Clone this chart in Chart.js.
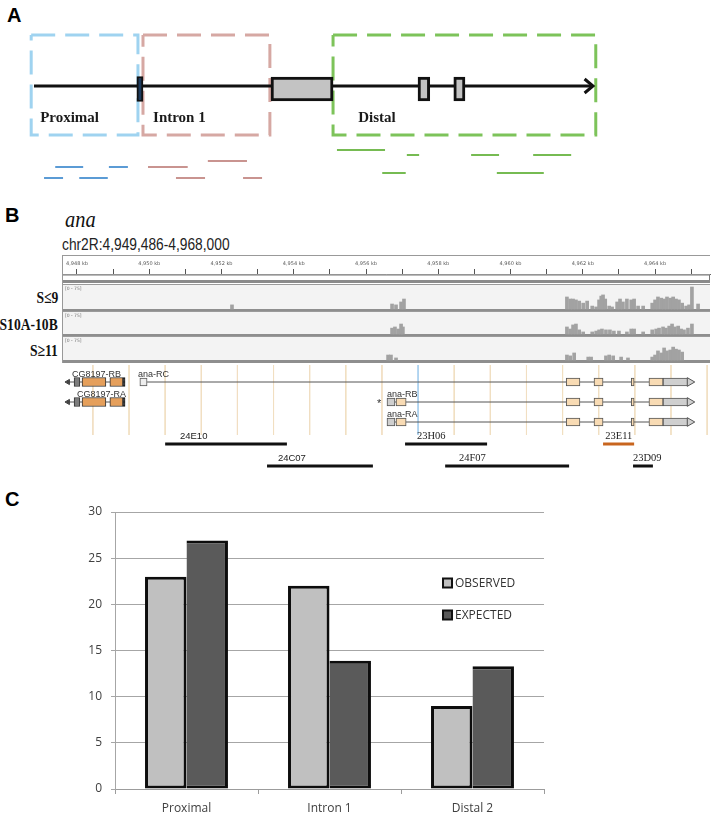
<!DOCTYPE html>
<html lang="en">
<head>
<meta charset="utf-8">
<title>ana regulatory regions</title>
<script src="https://cdn.jsdelivr.net/npm/chart.js@4.4.1/dist/chart.umd.min.js"></script>
<style>
  body { margin: 0; background: #fff; }
  #fig { position: relative; width: 714px; height: 814px; overflow: hidden; font-family: "Liberation Sans", Arial, sans-serif; }
  #fig canvas { position: absolute; left: 0; }
  .lbl { position: absolute; white-space: nowrap; line-height: 1; }
  .panel { font-size: 20px; font-weight: bold; color: #000; }
  .gene { font-family: "Liberation Serif", serif; font-style: italic; font-size: 24px; color: #111; transform: scaleX(0.85); transform-origin: left; }
  .locus { font-size: 16px; color: #222; transform: scaleX(0.86); transform-origin: left; }
  .track { font-family: "Liberation Serif", serif; font-weight: bold; font-size: 17px; color: #111; text-align: right; transform: scaleX(0.8); transform-origin: right; }
</style>
</head>
<body>
<div id="fig">
  <div class="lbl panel" style="left:7px; top:5px;">A</div>
  <div class="lbl panel" style="left:5px; top:205px;">B</div>
  <div class="lbl gene" style="left:65px; top:207px;">ana</div>
  <div class="lbl locus" style="left:62px; top:237px;">chr2R:4,949,486-4,968,000</div>
  <div class="lbl track" style="right:656px; top:289px;">S≤9</div>
  <div class="lbl track" style="right:656px; top:316px;">S10A-10B</div>
  <div class="lbl track" style="right:656px; top:342px;">S≥11</div>
  <div class="lbl panel" style="left:5px; top:489px;">C</div>

  <canvas id="cA" width="714" height="200" style="top:0"></canvas>
  <canvas id="cB1" width="714" height="113" style="top:252px"></canvas>
  <canvas id="cB2" width="714" height="115" style="top:365px"></canvas>
  <canvas id="cC" width="714" height="334" style="top:480px"></canvas>
</div>

<script>
// ---------- Panel A: gene schematic, units 0 = start of line, 100 = arrow tip
const regionNames = ['Proximal', 'Intron 1', 'Distal'];
const regionStart = [-0.5, 19.5, 53.5];
const regionEnd = [18.6, 42.2, 100.5];
const regionLabelAt = [1.1, 21.3, 58.0];
const firstExon = [18.4, 19.5];
const otherExons = [[42.4, 53.5], [68.7, 70.8], [75.1, 77.1]];
// fragments: [from, to, lane]
const proximalFrags = [[3.8, 8.8, 3], [13.4, 16.8, 3], [1.8, 5.2, 5], [8.1, 13.2, 5]];
const intronFrags = [[20.4, 27.5, 3], [31.1, 38.1, 2], [25.4, 30.6, 5], [37.4, 40.8, 5]];
const distalFrags = [[54.2, 62.8, 0], [66.7, 68.9, 1], [78.2, 83.2, 1], [89.3, 96.1, 1], [62.3, 66.5, 4], [82.8, 91.2, 4]];

// ---------- Panel B: genome browser, x in kb
const kbMin = 4947.585, kbMax = 4965.52;
const covPos1 = [4952.29, 4956.72, 4956.83, 4956.97, 4957.05,
  4961.56, 4961.65, 4961.73, 4961.81, 4961.90, 4962.01, 4962.12, 4962.26, 4962.37, 4962.45, 4962.51, 4962.56,
  4962.62, 4962.73, 4962.81, 4962.95, 4963.03, 4963.11, 4963.22, 4963.34, 4963.42, 4963.53, 4963.67, 4963.92,
  4964.00, 4964.08, 4964.17, 4964.25, 4964.33, 4964.42, 4964.50, 4964.58, 4964.66, 4964.75, 4964.86, 4964.94,
  4965.02, 4965.19];
const covDepth1 = [14, 17, 14, 24, 34,
  41, 34, 34, 31, 27, 20, 27, 10, 7, 31, 44, 48,
  34, 10, 7, 24, 34, 24, 34, 31, 34, 10, 10, 20,
  31, 41, 37, 34, 41, 37, 41, 34, 31, 20, 10, 14,
  75, 17];
const covPos2 = [4956.72, 4956.80, 4956.89, 4956.97, 4957.02,
  4961.56, 4961.65, 4961.73, 4961.81, 4961.90, 4962.01, 4962.26, 4962.37, 4962.45, 4962.53, 4962.64, 4962.75,
  4962.86, 4963.00, 4963.22, 4963.34, 4963.42, 4963.67, 4963.92, 4964.03, 4964.11, 4964.22, 4964.30, 4964.39,
  4964.47, 4964.55, 4964.64, 4964.72, 4964.80, 4964.91, 4965.02];
const covDepth2 = [20, 24, 17, 34, 24,
  24, 17, 31, 34, 14, 7, 7, 10, 14, 17, 14, 14,
  10, 10, 7, 17, 17, 7, 14, 17, 20, 24, 20, 27,
  34, 24, 27, 17, 14, 20, 34];
const covPos3 = [4956.61, 4956.69, 4956.83,
  4961.56, 4961.65, 4961.76, 4962.15, 4962.23, 4962.64, 4962.73, 4962.84, 4963.06, 4963.25, 4963.92, 4964.00,
  4964.08, 4964.17, 4964.25, 4964.33, 4964.42, 4964.50, 4964.58, 4964.66, 4964.75];
const covDepth3 = [17, 17, 7,
  17, 14, 24, 10, 10, 14, 17, 14, 10, 7, 10, 17,
  31, 24, 41, 31, 34, 44, 37, 34, 27];

const igvGridKb = [4948.44, 4949.44, 4950.44, 4951.44, 4952.44, 4953.44, 4954.44, 4955.44, 4956.44,
  4958.44, 4959.44, 4960.44, 4961.44, 4962.44, 4963.44, 4964.44, 4965.44];
const highlightKb = 4957.44;

const geneNames = ['CG8197-RB', 'CG8197-RA', 'ana-RC', 'ana-RB', 'ana-RA'];
const geneLane = [0, 1, 0, 1, 2];
const geneFrom = [4947.75, 4947.75, 4949.94, 4956.80, 4956.80];
const geneTo = [4949.33, 4949.33, 4964.91, 4964.91, 4964.91];
const geneLabelKb = [4947.86, 4948.0, 4949.69, 4956.58, 4956.58];
const cgUtr = [4947.92, 4948.08];
const cgCds = [[4948.14, 4948.80], [4948.91, 4949.27]];
const cgCap = [4949.27, 4949.33];
const anaRcFirst = [4949.74, 4949.94];
const anaFirstUtr = [4956.58, 4956.80];
const anaFirstCds = [4956.83, 4957.11];
const anaExons = [[4961.54, 4961.92], [4962.31, 4962.56], [4963.34, 4963.42], [4963.83, 4964.22]];
const anaUtr3 = [4964.22, 4964.91];
const anaTipKb = 4964.96;
const starKb = 4956.36;

const cloneNames = ['24E10', '24C07', '23H06', '24F07', '23E11', '23D09'];
const cloneFrom = [4950.44, 4953.26, 4957.08, 4958.19, 4962.56, 4963.39];
const cloneTo = [4953.81, 4956.19, 4959.35, 4961.62, 4963.42, 4963.94];
const cloneLane = [0, 1, 0, 1, 0, 1];
const cloneLabelKb = [4950.85, 4953.56, 4957.41, 4958.57, 4962.62, 4963.39];

// ---------- Panel C: bar chart
const regions = ['Proximal', 'Intron 1', 'Distal 2'];
const observed = [23, 22, 9];
const expected = [26.9, 13.9, 13.3];
const seriesNames = ['OBSERVED', 'EXPECTED'];

// ---------- layout and style (not data)
const LA = { xMin: -6.08, xMax: 121.65, yMin: -11.4, yMax: 8.6, boxTop: 5.1, boxBottom: -4.9,
  exonY: -0.3, labelY: -3.6, fragY: [-6.4, -6.9, -7.5, -8.1, -8.7, -9.2] };
const boxColors = ['#9fd3f0', '#d6a8a3', '#7dc35a'];
const fragColors = ['#5b9bd5', '#c99490', '#76bb52'];
const LB1 = { yMin: 2.2, yMax: 11.3, rulerTop: 0.3, stripTop: 2.25, stripBottom: 2.8, bandBottom: 3.1,
  tracks: [[3.3, 5.7], [6.0, 8.2], [8.5, 10.8]], band: 0.3, depthSpan: 2.2, depthMax: 75 };
const LB2 = { yMax: 11.5, laneY: [1.7, 3.7, 5.7], labelDy: -0.5, gridBottom: 7.0,
  cloneY: [7.9, 10.1], cloneLabelY: [7.35, 9.55] };
const cloneColor = ['#111', '#111', '#111', '#111', '#c8651e', '#111'];
const cloneFont = ['9.5px "Liberation Sans"', '9.5px "Liberation Sans"', '10.5px "Liberation Serif"',
  '10.5px "Liberation Serif"', '10.5px "Liberation Serif"', '10.5px "Liberation Serif"'];

// ---------- helpers
function segments(list, laneY) {
  const pts = [];
  list.forEach(([a, b, lane]) => {
    pts.push({ x: a, y: laneY[lane] }, { x: b, y: laneY[lane] }, { x: b, y: null });
  });
  return pts;
}
function rectPath(a, b, top, bottom) {
  return [{ x: a, y: top }, { x: b, y: top }, { x: b, y: bottom }, { x: a, y: bottom }, { x: a, y: top }];
}
function lineSet(data, color, width, extra) {
  return Object.assign({ type: 'line', data, borderColor: color, borderWidth: width, pointRadius: 0,
    fill: false, tension: 0, spanGaps: false, clip: false, borderJoinStyle: 'miter' }, extra || {});
}
function hbarSet(data, fill, border, width, thick, extra) {
  return Object.assign({ type: 'bar', indexAxis: 'y', data, backgroundColor: fill, borderColor: border,
    borderWidth: width, borderSkipped: false, barThickness: thick, grouped: false, clip: false }, extra || {});
}
// linear axis without the bar-chart edge offset
function flatAxis(min, max, extra) {
  return Object.assign({ type: 'linear', display: false, min, max, offset: false, grid: { offset: false } }, extra || {});
}

// draws text labels anchored in data units
const textMarks = {
  id: 'textMarks',
  afterDatasetsDraw(chart, args, opts) {
    const { ctx, scales: { x, y } } = chart;
    ctx.save();
    ctx.textBaseline = 'alphabetic';
    (opts.items || []).forEach(t => {
      ctx.font = t.font;
      ctx.fillStyle = t.color || '#222';
      ctx.textAlign = t.align || 'left';
      ctx.fillText(t.text, x.getPixelForValue(t.x), y.getPixelForValue(t.y));
    });
    ctx.restore();
  }
};

const base = { responsive: false, animation: false, events: [] };

// ---------- Panel A
new Chart(document.getElementById('cA'), {
  type: 'line',
  data: {
    datasets: [
      hbarSet([{ x: firstExon, y: LA.exonY }], '#1d3b5e', '#111', 2, 25, { order: 0 }),
      hbarSet(otherExons.map(e => ({ x: e, y: LA.exonY })), '#c3c3c3', '#111', 3, 24, { order: 1 }),
      lineSet([{ x: 0, y: 0 }, { x: 100, y: 0 }], '#111', 3, { order: 2 }),
      lineSet([{ x: 98.5, y: 0.7 }, { x: 100, y: 0 }, { x: 98.5, y: -0.7 }], '#111', 3, { order: 2 }),
      ...regionNames.map((n, i) => lineSet(rectPath(regionStart[i], regionEnd[i], LA.boxTop, LA.boxBottom),
        boxColors[i], 3, { borderDash: [24, 10], order: 3 })),
      lineSet(segments(proximalFrags, LA.fragY), fragColors[0], 2, { order: 4 }),
      lineSet(segments(intronFrags, LA.fragY), fragColors[1], 2, { order: 4 }),
      lineSet(segments(distalFrags, LA.fragY), fragColors[2], 2, { order: 4 })
    ]
  },
  options: Object.assign({}, base, {
    layout: { padding: 0, autoPadding: false },
    plugins: {
      legend: { display: false }, tooltip: { enabled: false },
      textMarks: { items: regionNames.map((n, i) => ({ text: n, x: regionLabelAt[i], y: LA.labelY,
        font: 'bold 15px "Liberation Serif"', color: '#1a1a1a' })) }
    },
    scales: { x: flatAxis(LA.xMin, LA.xMax), y: flatAxis(LA.yMin, LA.yMax) }
  }),
  plugins: [textMarks]
});

// ---------- Panel B, ruler + coverage tracks
const trackPanels = {
  id: 'trackPanels',
  beforeDatasetsDraw(chart) {
    const { ctx, chartArea: ca, scales: { y } } = chart;
    const py = v => y.getPixelForValue(v);
    ctx.save();
    ctx.fillStyle = '#fff';
    ctx.fillRect(ca.left, py(LB1.stripTop), ca.width, py(LB1.stripBottom) - py(LB1.stripTop));
    ctx.strokeStyle = '#777';
    ctx.lineWidth = 1;
    ctx.strokeRect(ca.left + 0.5, py(LB1.stripTop) + 0.5, ca.width - 1, py(LB1.stripBottom) - py(LB1.stripTop));
    ctx.fillStyle = '#8a8a8a';
    ctx.fillRect(ca.left, py(LB1.stripBottom), ca.width, py(LB1.bandBottom) - py(LB1.stripBottom));
    LB1.tracks.forEach(([top, bottom]) => {
      ctx.fillStyle = '#f3f3f3';
      ctx.fillRect(ca.left, py(top), ca.width, py(bottom) - py(top));
      ctx.fillStyle = '#9a9a9a';
      ctx.fillRect(ca.left, py(top) - 1, ca.width, 1);
      ctx.fillStyle = '#8e8e8e';
      ctx.fillRect(ca.left, py(bottom), ca.width, py(bottom + LB1.band) - py(bottom));
      ctx.fillStyle = '#777';
      ctx.font = '4.5px "DejaVu Sans"';
      ctx.textBaseline = 'top';
      ctx.fillText('[0 - 75]', ca.left + 3, py(top) + 2);
    });
    ctx.strokeStyle = '#999';
    ctx.beginPath();
    ctx.moveTo(ca.left + 0.5, py(LB1.rulerTop));
    ctx.lineTo(ca.left + 0.5, py(LB1.tracks[2][1] + LB1.band));
    ctx.moveTo(ca.left, py(LB1.rulerTop) + 0.5);
    ctx.lineTo(ca.right, py(LB1.rulerTop) + 0.5);
    ctx.stroke();
    ctx.restore();
  }
};

function coverage(pos, depth, trackIdx) {
  const bottom = LB1.tracks[trackIdx][1];
  return {
    type: 'bar', data: pos.map((p, i) => ({ x: p, y: [bottom, bottom - depth[i] * LB1.depthSpan / LB1.depthMax] })),
    backgroundColor: '#a2a2a2', borderWidth: 0, barThickness: 3, grouped: false
  };
}

new Chart(document.getElementById('cB1'), {
  type: 'bar',
  data: { datasets: [coverage(covPos1, covDepth1, 0), coverage(covPos2, covDepth2, 1), coverage(covPos3, covDepth3, 2)] },
  options: Object.assign({}, base, {
    layout: { padding: { left: 62, right: 4, top: 0, bottom: 0 }, autoPadding: false },
    plugins: { legend: { display: false }, tooltip: { enabled: false } },
    scales: {
      x: {
        type: 'linear', position: 'top', min: kbMin, max: kbMax, offset: false,
        ticks: { stepSize: 1, includeBounds: false, autoSkip: false, maxRotation: 0, padding: 2, color: '#555',
          font: { size: 5, family: 'DejaVu Sans' },
          callback: v => (v % 2 === 0 ? v.toLocaleString('en-US') + ' kb' : '') },
        grid: { drawOnChartArea: false, tickLength: 5, color: '#555', offset: false },
        border: { color: '#666' },
        afterFit: s => { s.height = 22; }
      },
      y: flatAxis(LB1.yMin, LB1.yMax, { reverse: true })
    }
  }),
  plugins: [trackPanels]
});

// ---------- Panel B, genes + clones
const backbone = [];
geneNames.forEach((n, i) => {
  const ly = LB2.laneY[geneLane[i]];
  backbone.push({ x: geneFrom[i], y: ly }, { x: geneTo[i], y: ly }, { x: geneTo[i], y: null });
});
const gridPts = [];
igvGridKb.forEach(k => { gridPts.push({ x: k, y: 0 }, { x: k, y: LB2.gridBottom }, { x: k, y: null }); });
const cloneSegs = color => {
  const pts = [];
  cloneNames.forEach((n, i) => {
    if (cloneColor[i] !== color) return;
    const cy = LB2.cloneY[cloneLane[i]];
    pts.push({ x: cloneFrom[i], y: cy }, { x: cloneTo[i], y: cy }, { x: cloneTo[i], y: null });
  });
  return pts;
};
const cgLanes = [0, 1], anaLanes = [0, 1, 2];
const onLanes = (lanes, spans) => lanes.flatMap(l => spans.map(s => ({ x: s, y: LB2.laneY[l] })));

new Chart(document.getElementById('cB2'), {
  type: 'line',
  data: {
    datasets: [
      lineSet([{ x: anaTipKb, y: LB2.laneY[0] }, { x: anaTipKb, y: LB2.laneY[1] }, { x: anaTipKb, y: LB2.laneY[2] }], '#555', 1,
        { showLine: false, pointStyle: 'triangle', rotation: 90, pointRadius: 5, pointBackgroundColor: '#cfcfcf',
          pointBorderColor: '#555', pointBorderWidth: 1, order: 0 }),
      lineSet([{ x: geneFrom[0], y: LB2.laneY[0] }, { x: geneFrom[1], y: LB2.laneY[1] }], '#444', 1,
        { showLine: false, pointStyle: 'triangle', rotation: -90, pointRadius: 3, pointBackgroundColor: '#444',
          pointBorderColor: '#444', order: 0 }),
      hbarSet(onLanes(cgLanes, cgCds), '#e59f5b', '#333', 1, 9, { order: 1 }),
      hbarSet(onLanes(cgLanes, [cgUtr]), '#7d7d7d', '#333', 1, 9, { order: 1 }),
      hbarSet(onLanes(cgLanes, [cgCap]), '#1a1a1a', '#1a1a1a', 1, 9, { order: 1 }),
      hbarSet(onLanes([0], [anaRcFirst]), '#eeeeee', '#555', 1, 8, { order: 1 }),
      hbarSet(onLanes([1, 2], [anaFirstUtr]), '#cfcfcf', '#555', 1, 8, { order: 1 }),
      hbarSet(onLanes([1, 2], [anaFirstCds]), '#f8dbb4', '#555', 1, 8, { order: 1 }),
      hbarSet(onLanes(anaLanes, anaExons), '#f8dbb4', '#555', 1, 8, { order: 1 }),
      hbarSet(onLanes(anaLanes, [anaUtr3]), '#cfcfcf', '#555', 1, 8, { order: 1 }),
      lineSet(backbone, '#555', 1, { order: 2 }),
      lineSet(cloneSegs('#111'), '#111', 3, { order: 2, borderCapStyle: 'butt' }),
      lineSet(cloneSegs('#c8651e'), '#c8651e', 3, { order: 2 }),
      lineSet([{ x: highlightKb, y: 0 }, { x: highlightKb, y: LB2.gridBottom }], '#a9cfee', 1, { order: 3 }),
      lineSet(gridPts, '#f1dfc2', 1, { order: 4 })
    ]
  },
  options: Object.assign({}, base, {
    layout: { padding: { left: 62, right: 4, top: 0, bottom: 0 }, autoPadding: false },
    plugins: {
      legend: { display: false }, tooltip: { enabled: false },
      textMarks: { items: [
        ...geneNames.map((n, i) => ({ text: n, x: geneLabelKb[i], y: LB2.laneY[geneLane[i]] + LB2.labelDy,
          font: '9px "Liberation Sans"', color: '#333' })),
        { text: '*', x: starKb, y: LB2.laneY[1] + 0.45, font: '11px "Liberation Sans"', color: '#333', align: 'center' },
        ...cloneNames.map((n, i) => ({ text: n, x: cloneLabelKb[i], y: LB2.cloneLabelY[cloneLane[i]],
          font: cloneFont[i], color: '#222' }))
      ] }
    },
    scales: { x: flatAxis(kbMin, kbMax), y: flatAxis(0, LB2.yMax, { reverse: true }) }
  }),
  plugins: [textMarks]
});

// ---------- Panel C
const cornerLegend = {
  id: 'cornerLegend',
  afterDatasetsDraw(chart, args, opts) {
    const { ctx, chartArea: ca, scales: { y } } = chart;
    const x0 = ca.left + ca.width * opts.xFrac;
    ctx.save();
    ctx.font = opts.font;
    ctx.textBaseline = 'middle';
    ctx.textAlign = 'left';
    chart.data.datasets.forEach((ds, i) => {
      const cy = Math.round(y.getPixelForValue(opts.at[i]));
      ctx.fillStyle = ds.backgroundColor;
      ctx.fillRect(x0, cy - 4.5, 9, 9);
      ctx.lineWidth = 2;
      ctx.strokeStyle = '#111';
      ctx.strokeRect(x0, cy - 4.5, 9, 9);
      ctx.fillStyle = '#333';
      ctx.fillText(ds.label, x0 + 12, cy + 0.5);
    });
    ctx.restore();
  }
};

const axisFont = { family: 'Open Sans', size: 12 };
new Chart(document.getElementById('cC'), {
  type: 'bar',
  data: {
    labels: regions,
    datasets: [
      { label: seriesNames[0], data: observed, backgroundColor: '#c0c0c0', borderColor: '#0d0d0d', borderWidth: 3,
        borderSkipped: false, categoryPercentage: 0.58, barPercentage: 1 },
      { label: seriesNames[1], data: expected, backgroundColor: '#5a5a5a', borderColor: '#0d0d0d', borderWidth: 3,
        borderSkipped: 'left', categoryPercentage: 0.58, barPercentage: 1 }
    ]
  },
  options: Object.assign({}, base, {
    layout: { padding: { left: 0, right: 170, top: 32, bottom: 0 } },
    plugins: {
      legend: { display: false }, tooltip: { enabled: false },
      cornerLegend: { xFrac: 0.7646, at: [22.3, 18.85], font: '12px "Open Sans"' }
    },
    scales: {
      x: {
        grid: { drawOnChartArea: false, tickLength: 5, color: '#9c9c9c', offset: true },
        border: { color: '#9c9c9c' },
        ticks: { font: axisFont, color: '#404040', padding: 7 },
        afterFit: s => { s.height = 25; }
      },
      y: {
        min: 0, max: 30,
        ticks: { stepSize: 5, font: axisFont, color: '#404040', padding: 9 },
        grid: { color: '#a6a6a6', tickLength: 4 },
        border: { color: '#a6a6a6' },
        afterFit: s => { s.width = 115; }
      }
    }
  }),
  plugins: [cornerLegend]
});
</script>
</body>
</html>
